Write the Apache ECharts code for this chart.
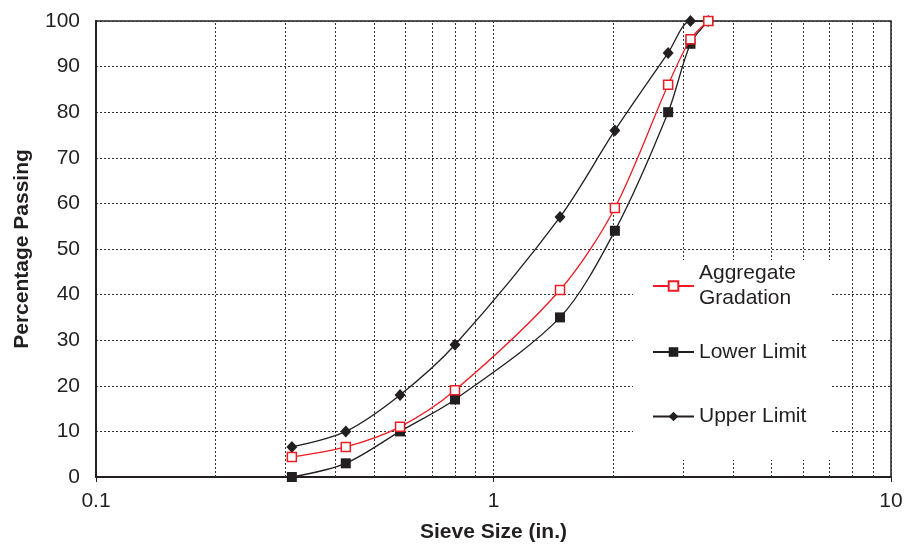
<!DOCTYPE html>
<html>
<head>
<meta charset="utf-8">
<script src="https://cdn.jsdelivr.net/npm/echarts@6/dist/echarts.min.js"></script>
<style>
html,body{margin:0;padding:0;background:#fff;}
#chart{width:906px;height:544px;}
</style>
</head>
<body>
<div id="chart"></div>
<script>
// Data
var sieveSizes = [0.311, 0.425, 0.582, 0.800, 1.47, 2.02, 2.75, 3.13, 3.47];
var aggregateGradation = [4.4, 6.6, 11, 19, 41, 59, 86, 96, 100];
var lowerLimit = [0, 3, 10, 17, 35, 54, 80, 95, 100];
var upperLimit = [6.6, 10, 18, 29, 57, 76, 93, 100, 100];
var xTickLabels = ['0.1', '1', '10'];
var minorGridValues = [0.2, 0.3, 0.4, 0.5, 0.6, 0.7, 0.8, 0.9, 2, 3, 4, 5, 6, 7, 8, 9];

var FONT = 'Liberation Sans, Arial, Helvetica, sans-serif';
var FS = 21;
var INK = '#231f20';
var RED = '#ed1c24';

function pairs(ys) { return sieveSizes.map(function (x, i) { return [x, ys[i]]; }); }

var chart = echarts.init(document.getElementById('chart'), null, {renderer: 'canvas'});

var option = {
  animation: false,
  backgroundColor: '#fff',
  grid: {left: 96, right: 15, top: 21, bottom: 67, outerBoundsMode: 'none', containLabel: false,
    show: true, borderColor: INK, borderWidth: 1.5, backgroundColor: 'transparent'},
  xAxis: {
    type: 'log', logBase: 10, min: 0.1, max: 10,
    name: 'Sieve Size (in.)', nameLocation: 'middle', nameGap: 45,
    nameTextStyle: {fontFamily: FONT, fontWeight: 'bold', fontSize: FS, color: INK},
    axisLine: {show: true, lineStyle: {color: INK, width: 2}},
    axisTick: {show: true, length: 5, inside: false, lineStyle: {color: INK, width: 1}},
    axisLabel: {fontFamily: FONT, fontSize: FS, color: INK, margin: 14,
      formatter: function (v) { var s = String(+v.toPrecision(3)); return xTickLabels.indexOf(s) >= 0 ? s : ''; }},
    splitLine: {show: true, lineStyle: {color: '#333', width: 1, type: [2, 2]}},
    minorTick: {show: false}
  },
  yAxis: {
    type: 'value', min: 0, max: 100, interval: 10,
    name: 'Percentage Passing', nameLocation: 'middle', nameGap: 63,
    nameTextStyle: {fontFamily: FONT, fontWeight: 'bold', fontSize: FS, color: INK},
    axisLine: {show: true, lineStyle: {color: INK, width: 2}},
    axisTick: {show: false},
    axisLabel: {fontFamily: FONT, fontSize: FS, color: INK, margin: 16},
    splitLine: {show: true, lineStyle: {color: '#333', width: 1, type: [2, 2]}}
  },
  graphic: [{
    type: 'rect', z: 10, silent: true,
    shape: {x: 633, y: 260, width: 199, height: 200},
    style: {fill: '#fff'}
  }],
  legend: [
    {data: ['Aggregate Gradation'], left: 652, top: 248.5, orient: 'vertical', itemWidth: 41, itemHeight: 12, z: 11, padding: 0,
      formatter: function () { return 'Aggregate\nGradation'; },
      textStyle: {fontFamily: FONT, fontSize: FS, color: INK, lineHeight: 25, padding: [25, 0, 0, 0]}},
    {data: ['Lower Limit'], left: 652, top: 339.5, itemWidth: 41, itemHeight: 12, z: 11, padding: 0,
      textStyle: {fontFamily: FONT, fontSize: FS, color: INK, lineHeight: 25}},
    {data: ['Upper Limit'], left: 652, top: 404, itemWidth: 41, itemHeight: 12, z: 11, padding: 0,
      textStyle: {fontFamily: FONT, fontSize: FS, color: INK, lineHeight: 25}}
  ],
  series: [
    {
      name: 'Upper Limit', type: 'line', data: pairs(upperLimit), smooth: 0.3, z: 3,
      symbol: 'diamond', symbolSize: [11, 12],
      lineStyle: {color: INK, width: 1.3},
      itemStyle: {color: INK, borderColor: INK, borderWidth: 0},
      markLine: {
        silent: true, symbol: ['none', 'none'], z: 1, animation: false,
        label: {show: false},
        lineStyle: {color: '#333', width: 1, type: [2, 2]},
        emphasis: {disabled: true},
        data: minorGridValues.map(function (v) { return {xAxis: v}; })
      }
    },
    {
      name: 'Lower Limit', type: 'line', data: pairs(lowerLimit), smooth: 0.3, z: 4,
      symbol: 'rect', symbolSize: 10,
      lineStyle: {color: INK, width: 1.3},
      itemStyle: {color: INK, borderColor: INK, borderWidth: 0}
    },
    {
      name: 'Aggregate Gradation', type: 'line', data: pairs(aggregateGradation), smooth: 0.3, z: 5,
      symbol: 'rect', symbolSize: 9,
      lineStyle: {color: RED, width: 1.3},
      itemStyle: {color: '#fff', borderColor: RED, borderWidth: 1.5}
    }
  ]
};
chart.setOption(option);
</script>
</body>
</html>
